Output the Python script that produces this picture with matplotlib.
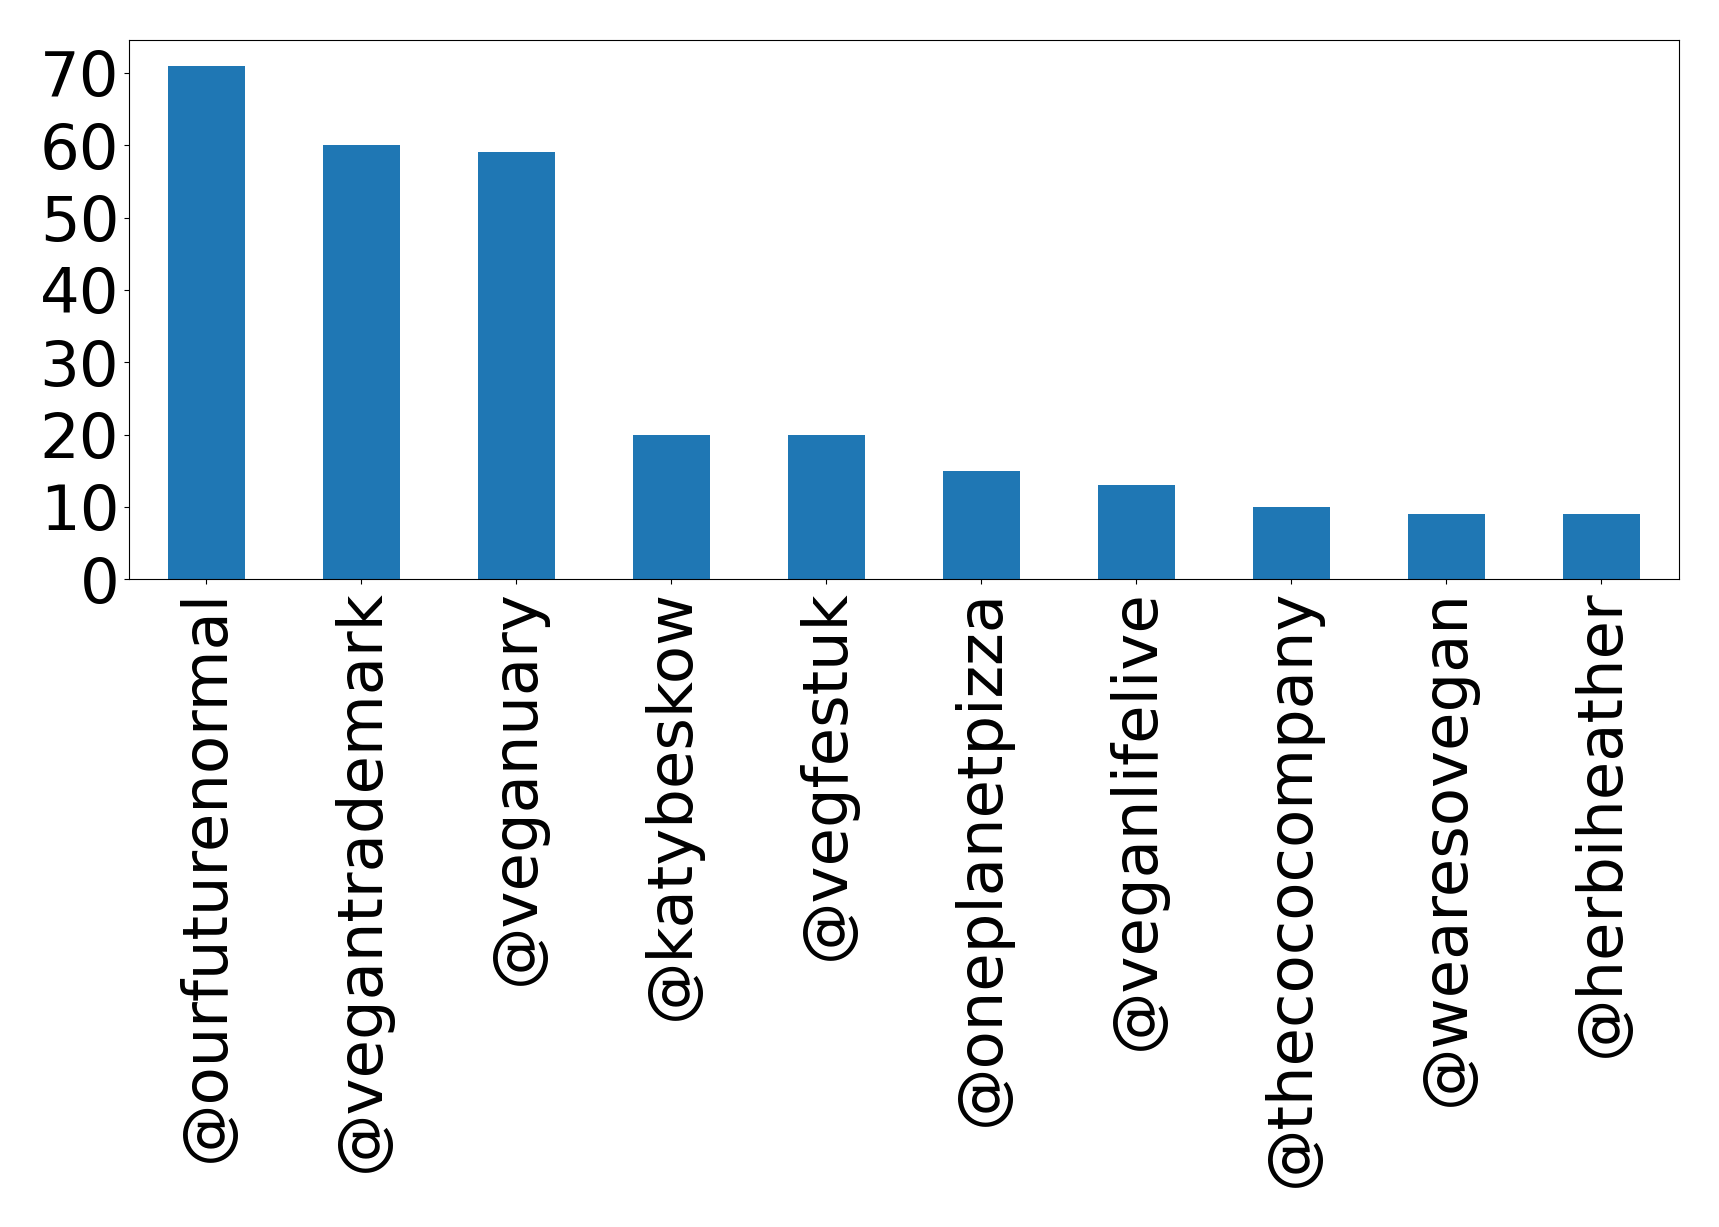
import matplotlib
matplotlib.use("Agg")
import matplotlib.pyplot as plt
import numpy as np

# Accounts and how often they were mentioned
accounts = ['@ourfuturenormal', '@vegantrademark', '@veganuary', '@katybeskow',
            '@vegfestuk', '@oneplanetpizza', '@veganlifelive', '@thecococompany',
            '@wearesovegan', '@herbiheather']
counts = [71, 60, 59, 20, 20, 15, 13, 10, 9, 9]
y_ticks = [0, 10, 20, 30, 40, 50, 60, 70]

fig = plt.figure(figsize=(17.19, 12.27), dpi=100)
ax = fig.add_axes([0.075, 0.528, 0.9017, 0.4394])

x = np.arange(len(accounts))
ax.bar(x, counts, width=0.5, color='#1f77b4')
ax.set_xlim(-0.5, len(accounts) - 0.5)
ax.set_ylim(0, max(counts) * 1.05)
ax.set_xticks(x)
ax.set_xticklabels(accounts, rotation=90, fontsize=45)
ax.set_yticks(y_ticks)
ax.tick_params(axis='y', labelsize=45)

plt.savefig('out.png', dpi=100)
